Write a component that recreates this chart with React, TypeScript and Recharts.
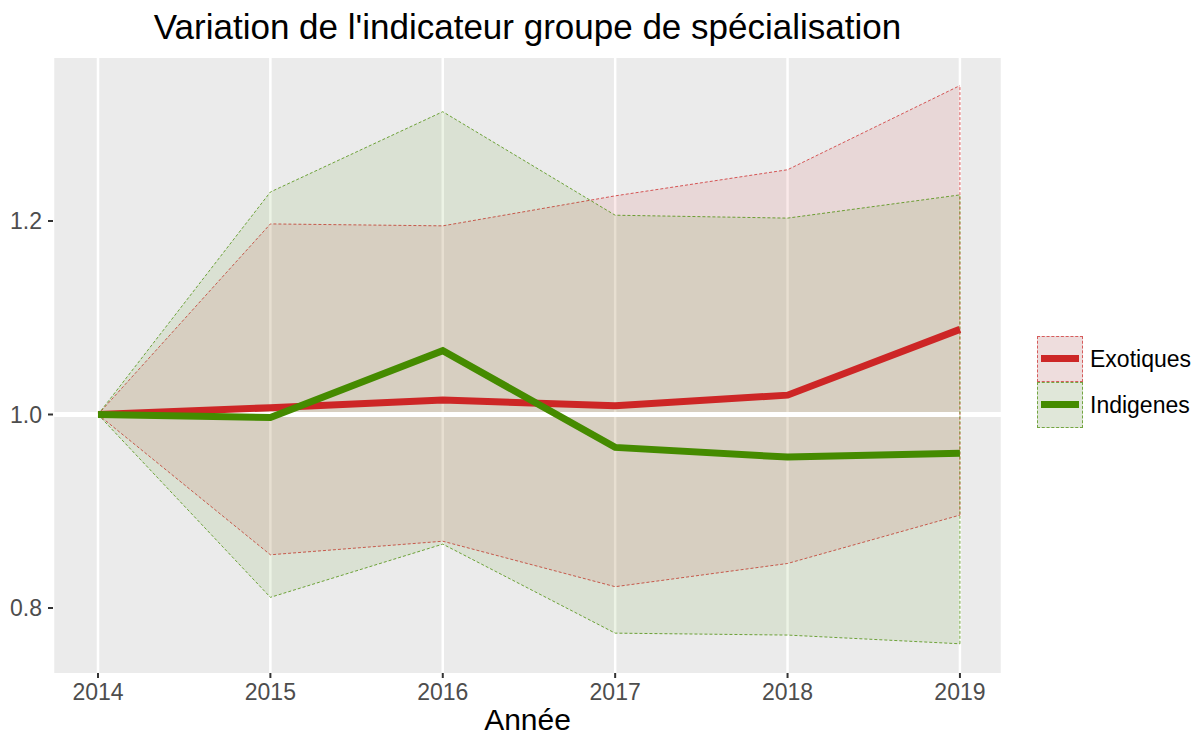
import React from "react";
import {
  Area,
  CartesianGrid,
  ComposedChart,
  Line,
  ReferenceLine,
  XAxis,
  YAxis,
} from "recharts";

// Values (indicator relative to 2014 = 1).
const years = [2014, 2015, 2016, 2017, 2018, 2019];

const exotiques = [1.0, 1.007, 1.015, 1.009, 1.02, 1.088];
const exotiquesLow = [1.0, 0.855, 0.869, 0.822, 0.846, 0.896];
const exotiquesHigh = [1.0, 1.197, 1.195, 1.226, 1.253, 1.34];

const indigenes = [1.0, 0.997, 1.066, 0.966, 0.956, 0.96];
const indigenesLow = [1.0, 0.811, 0.866, 0.774, 0.772, 0.763];
const indigenesHigh = [1.0, 1.23, 1.313, 1.206, 1.203, 1.227];

const yTicks = [0.8, 1.0, 1.2];

const RED = "#CD2626";
const GREEN = "#458B00";
const FONT = "'Liberation Sans', Arial, sans-serif";

const series = [
  { name: "Exotiques", color: RED },
  { name: "Indigenes", color: GREEN },
];

const data = years.map((year, i) => ({
  year,
  exotiques: exotiques[i],
  exoBand: [exotiquesLow[i], exotiquesHigh[i]],
  indigenes: indigenes[i],
  indBand: [indigenesLow[i], indigenesHigh[i]],
}));

const last = years.length - 1;

export default function App() {
  const tick = { fontSize: 23, fill: "#4D4D4D", fontFamily: FONT };

  return (
    <div
      style={{
        position: "relative",
        width: 1199,
        height: 738,
        margin: -8,
        background: "#fff",
        fontFamily: FONT,
      }}
    >
      <div
        style={{
          position: "absolute",
          left: 53,
          width: 949,
          top: 7,
          textAlign: "center",
          fontSize: 35,
          lineHeight: "40px",
          color: "#000",
        }}
      >
        Variation de l'indicateur groupe de spécialisation
      </div>

      <ComposedChart
        width={1199}
        height={738}
        data={data}
        margin={{ top: 58, right: 197, bottom: 0, left: 0 }}
      >
        <CartesianGrid
          horizontal={false}
          stroke="#FFFFFF"
          strokeWidth={2.5}
          fill="#EBEBEB"
        />
        <XAxis
          dataKey="year"
          type="number"
          domain={[2013.739, 2019.244]}
          ticks={years}
          allowDataOverflow
          height={65}
          axisLine={false}
          tickLine={{ stroke: "#333333", strokeWidth: 2 }}
          tickSize={5}
          tickMargin={6}
          tick={tick}
        />
        <YAxis
          type="number"
          domain={[0.7328, 1.3685]}
          ticks={yTicks}
          allowDataOverflow
          width={53}
          axisLine={false}
          tickLine={{ stroke: "#333333", strokeWidth: 2 }}
          tickSize={5}
          tickMargin={6}
          tick={tick}
          tickFormatter={(v: number) => v.toFixed(1)}
        />
        <ReferenceLine y={1} stroke="#FFFFFF" strokeWidth={5} />

        <Area
          dataKey="exoBand"
          type="linear"
          fill={RED}
          fillOpacity={0.1}
          stroke={RED}
          strokeOpacity={0.75}
          strokeWidth={1}
          strokeDasharray="3 2"
          isAnimationActive={false}
        />
        <Area
          dataKey="indBand"
          type="linear"
          fill={GREEN}
          fillOpacity={0.1}
          stroke={GREEN}
          strokeOpacity={0.75}
          strokeWidth={1}
          strokeDasharray="3 2"
          isAnimationActive={false}
        />
        <ReferenceLine
          segment={[
            { x: years[last], y: exotiquesLow[last] },
            { x: years[last], y: exotiquesHigh[last] },
          ]}
          stroke={RED}
          strokeOpacity={0.75}
          strokeDasharray="3 2"
        />
        <ReferenceLine
          segment={[
            { x: years[last], y: indigenesLow[last] },
            { x: years[last], y: indigenesHigh[last] },
          ]}
          stroke={GREEN}
          strokeOpacity={0.75}
          strokeDasharray="3 2"
        />

        <Line
          dataKey="exotiques"
          type="linear"
          stroke={RED}
          strokeWidth={7}
          dot={false}
          isAnimationActive={false}
        />
        <Line
          dataKey="indigenes"
          type="linear"
          stroke={GREEN}
          strokeWidth={7}
          dot={false}
          isAnimationActive={false}
        />
      </ComposedChart>

      <div
        style={{
          position: "absolute",
          left: 53,
          width: 949,
          top: 703,
          textAlign: "center",
          fontSize: 30,
          lineHeight: "34px",
          color: "#000",
        }}
      >
        Année
      </div>

      <div style={{ position: "absolute", left: 1037, top: 336 }}>
        {series.map((s) => (
          <div
            key={s.name}
            style={{ display: "flex", alignItems: "center", height: 46 }}
          >
            <div
              style={{
                position: "relative",
                width: 46,
                height: 46,
                boxSizing: "border-box",
                background: "#F2F2F2",
              }}
            >
              <div
                style={{
                  position: "absolute",
                  inset: 0,
                  background: s.color,
                  opacity: 0.1,
                }}
              />
              <div
                style={{
                  position: "absolute",
                  inset: 0,
                  border: `1px dashed ${s.color}`,
                  opacity: 0.7,
                }}
              />
              <div
                style={{
                  position: "absolute",
                  left: 4,
                  right: 4,
                  top: 19,
                  height: 7,
                  background: s.color,
                }}
              />
            </div>
            <span style={{ marginLeft: 7, fontSize: 23, color: "#000" }}>
              {s.name}
            </span>
          </div>
        ))}
      </div>
    </div>
  );
}
